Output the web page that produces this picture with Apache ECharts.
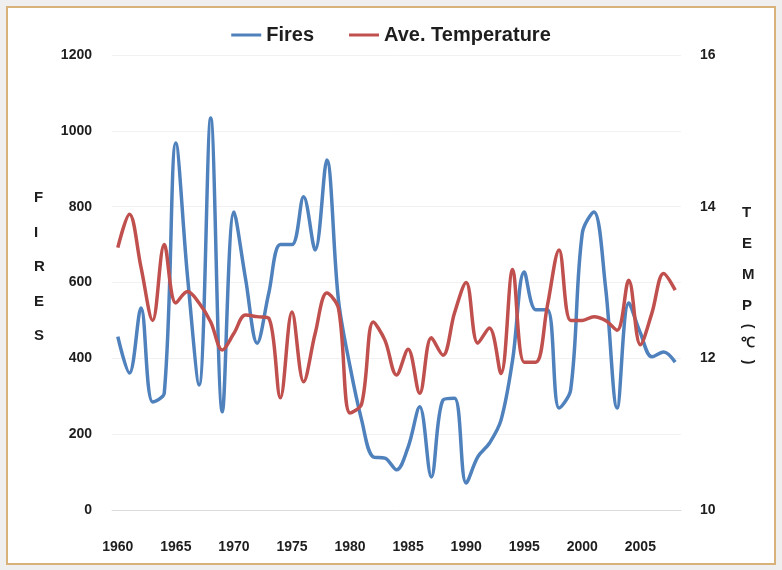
<!DOCTYPE html>
<html>
<head>
<meta charset="utf-8">
<script src="https://cdn.jsdelivr.net/npm/echarts@6/dist/echarts.min.js"></script>
<style>
  html, body { margin: 0; padding: 0; background: #efefef; }
  #main { width: 782px; height: 570px; }
</style>
</head>
<body>
<div id="main"></div>
<script>
// years 1960 - 2008
const years = []
for (let y = 1960; y <= 2008; y++) years.push(String(y))

const fires = [
  457, 361, 533, 285, 308, 968, 617, 330, 1034, 259,
  786, 610, 440, 572, 700, 700, 826, 686, 923, 554,
  378, 237, 140, 137, 106, 166, 272, 87, 290, 295,
  71, 140, 176, 237, 396, 628, 528, 528, 269, 317,
  730, 786, 588, 269, 546, 467, 404, 417, 390
]

const temps = [
  13.46, 13.9, 13.2, 12.5, 13.5, 12.73, 12.88, 12.73, 12.48, 12.11,
  12.33, 12.57, 12.55, 12.53, 11.48, 12.61, 11.69, 12.33, 12.86, 12.66,
  11.28, 11.4, 12.48, 12.24, 11.78, 12.12, 11.54, 12.27, 12.04, 12.6,
  13.0, 12.2, 12.4, 11.8, 13.17, 11.95, 11.95, 12.7, 13.43, 12.5,
  12.5, 12.55, 12.5, 12.37, 13.03, 12.18, 12.6, 13.12, 12.9
]

const fireTicks = [0, 200, 400, 600, 800, 1000, 1200]
const tempTicks = [10, 12, 14, 16]

const font = 'Liberation Sans, Arial, sans-serif'
const ink = '#1e1e1e'
const tickStyle = { color: ink, fontFamily: font, fontWeight: 'bold', fontSize: 14 }

const option = {
  animation: false,
  graphic: [
    {
      type: 'rect',
      z: -10,
      silent: true,
      shape: { x: 7, y: 7, width: 768, height: 557 },
      style: { fill: '#ffffff', stroke: '#d9b27a', lineWidth: 2 }
    },
    {
      type: 'text',
      left: 34,
      top: 181,
      style: { text: 'F\nI\nR\nE\nS', font: 'bold 15px ' + font, fill: ink, lineHeight: 34.5, align: 'center' }
    },
    {
      type: 'text',
      left: 742,
      top: 197,
      style: { text: 'T\nE\nM\nP', font: 'bold 15px ' + font, fill: ink, lineHeight: 31, align: 'center' }
    },
    // rotated brackets around the unit, as in the source
    {
      type: 'text',
      x: 748,
      y: 326,
      rotation: -Math.PI / 2,
      style: { text: '(', font: 'bold 14px ' + font, fill: ink, align: 'center', verticalAlign: 'middle' }
    },
    {
      type: 'text',
      x: 748,
      y: 343,
      style: { text: '℃', font: 'bold 14px ' + font, fill: ink, align: 'center', verticalAlign: 'middle' }
    },
    {
      type: 'text',
      x: 748,
      y: 362,
      rotation: -Math.PI / 2,
      style: { text: ')', font: 'bold 14px ' + font, fill: ink, align: 'center', verticalAlign: 'middle' }
    }
  ],
  legend: {
    top: 20,
    left: 'center',
    itemGap: 35,
    itemWidth: 30,
    itemHeight: 3,
    icon: 'rect',
    textStyle: { color: ink, fontFamily: font, fontWeight: 'bold', fontSize: 20 },
    data: ['Fires', 'Ave. Temperature']
  },
  grid: { left: 112, right: 101, top: 55, bottom: 60 },
  xAxis: {
    type: 'category',
    data: years,
    boundaryGap: true,
    axisTick: { show: false },
    axisLine: { lineStyle: { color: '#dcdcdc' } },
    axisLabel: { ...tickStyle, interval: 4, margin: 30 },
    splitLine: { show: false }
  },
  yAxis: [
    {
      type: 'value',
      min: fireTicks[0],
      max: fireTicks[fireTicks.length - 1],
      interval: 200,
      axisLine: { show: false },
      axisTick: { show: false },
      axisLabel: { ...tickStyle, margin: 20, formatter: (v) => String(v) },
      splitLine: { lineStyle: { color: '#f1f1f1' } }
    },
    {
      type: 'value',
      min: tempTicks[0],
      max: tempTicks[tempTicks.length - 1],
      interval: 2,
      axisLine: { show: false },
      axisTick: { show: false },
      axisLabel: { ...tickStyle, margin: 19 },
      splitLine: { show: false }
    }
  ],
  series: [
    {
      name: 'Fires',
      type: 'line',
      yAxisIndex: 0,
      smooth: 0.35,
      symbol: 'none',
      lineStyle: { width: 3.5, color: '#4f81bd' },
      itemStyle: { color: '#4f81bd' },
      data: fires
    },
    {
      name: 'Ave. Temperature',
      type: 'line',
      yAxisIndex: 1,
      smooth: 0.35,
      symbol: 'none',
      lineStyle: { width: 3.5, color: '#c0504d' },
      itemStyle: { color: '#c0504d' },
      data: temps
    }
  ]
}

const myChart = echarts.init(document.getElementById('main'))
myChart.setOption(option)
</script>
</body>
</html>
